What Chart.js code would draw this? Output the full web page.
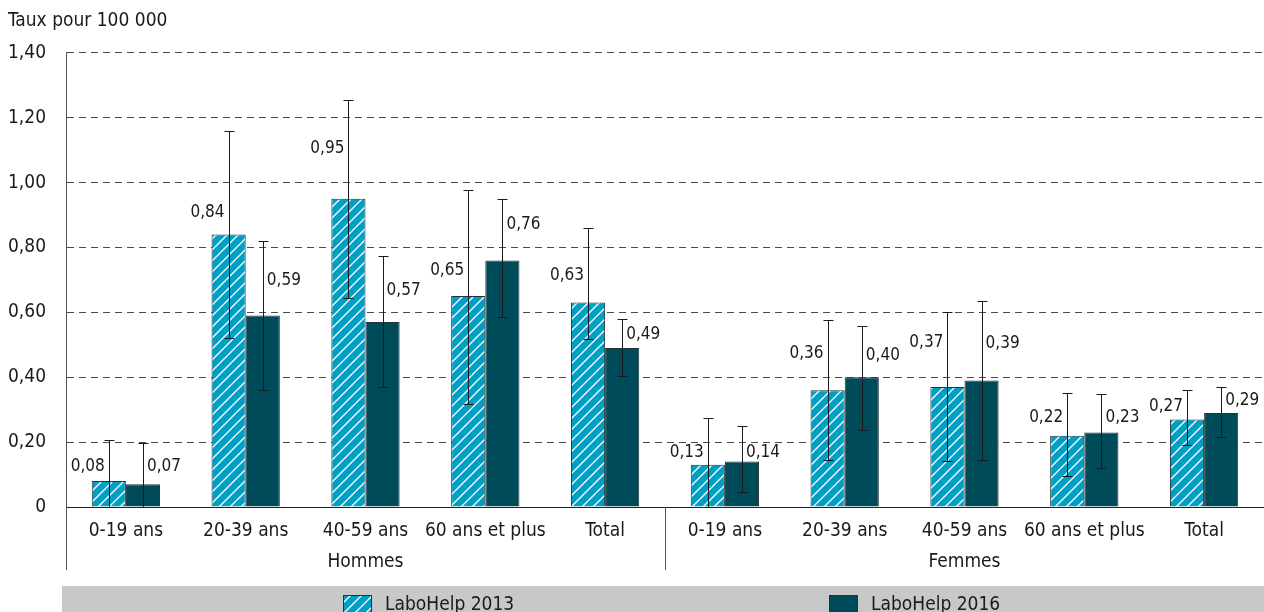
<!DOCTYPE html>
<html>
<head>
<meta charset="utf-8">
<title>Taux pour 100 000</title>
<script src="https://cdn.jsdelivr.net/npm/chart.js@4"></script>
<style>
  body { margin: 0; background: #fff; }
</style>
</head>
<body>
<canvas id="js--chart" width="1264" height="612"></canvas>
<script>
// data
const categories = ["0-19 ans", "20-39 ans", "40-59 ans", "60 ans et plus", "Total",
                    "0-19 ans", "20-39 ans", "40-59 ans", "60 ans et plus", "Total"];
const groups = ["Hommes", "Femmes"];
const series = ["LaboHelp 2013", "LaboHelp 2016"];

const rate2013 = [0.08, 0.84, 0.95, 0.65, 0.63, 0.13, 0.36, 0.37, 0.22, 0.27];
const rate2016 = [0.07, 0.59, 0.57, 0.76, 0.49, 0.14, 0.40, 0.39, 0.23, 0.29];

// confidence interval, low / high
const low2013 = [0, 0.52, 0.645, 0.317, 0.517, 0, 0.145, 0.141, 0.095, 0.19];
const high2013 = [0.207, 1.16, 1.253, 0.978, 0.86, 0.275, 0.577, 0.60, 0.352, 0.361];
const low2016 = [0, 0.361, 0.371, 0.587, 0.405, 0.045, 0.238, 0.144, 0.121, 0.216];
const high2016 = [0.196, 0.821, 0.773, 0.949, 0.581, 0.251, 0.557, 0.634, 0.349, 0.37];

const yTicks = [0, 0.2, 0.4, 0.6, 0.8, 1.0, 1.2, 1.4];

const FONT = "'DejaVu Sans Condensed', 'DejaVu Sans', sans-serif";
Chart.defaults.font.family = FONT;
Chart.defaults.color = "#1a1a1a";

// hachures blanches sur bleu
function hatch(bg) {
    var c = document.createElement("canvas");
    c.width = 11; c.height = 11;
    var g = c.getContext("2d");
    g.fillStyle = bg;
    g.fillRect(0, 0, 11, 11);
    g.strokeStyle = "#ffffff";
    g.lineWidth = 1.3;
    g.beginPath();
    g.moveTo(-2, 13); g.lineTo(13, -2);
    g.moveTo(-2, 2); g.lineTo(2, -2);
    g.moveTo(9, 13); g.lineTo(13, 9);
    g.stroke();
    return g.createPattern(c, "repeat");
}

function fmt(v) {
    return v === 0 ? "0" : v.toFixed(2).replace(".", ",");
}

const errorBars = {
    id: "errorBars",
    afterDatasetsDraw(chart) {
        const ctx = chart.ctx;
        const y = chart.scales.y;
        const lows = [low2013, low2016];
        const highs = [high2013, high2016];
        ctx.save();
        ctx.strokeStyle = "#1a1a1a";
        ctx.lineWidth = 1;
        chart.data.datasets.forEach(function (ds, i) {
            chart.getDatasetMeta(i).data.forEach(function (bar, j) {
                const x = Math.round(bar.x) + 0.5;
                const yl = Math.round(y.getPixelForValue(lows[i][j])) + 0.5;
                const yh = Math.round(y.getPixelForValue(highs[i][j])) + 0.5;
                ctx.beginPath();
                ctx.moveTo(x, yl); ctx.lineTo(x, yh);
                ctx.moveTo(x - 5, yl); ctx.lineTo(x + 5, yl);
                ctx.moveTo(x - 5, yh); ctx.lineTo(x + 5, yh);
                ctx.stroke();
            });
        });
        ctx.restore();
    }
};

const valueLabels = {
    id: "valueLabels",
    afterDatasetsDraw(chart, args, opts) {
        const ctx = chart.ctx;
        ctx.save();
        ctx.font = "17px " + FONT;
        ctx.fillStyle = "#1a1a1a";
        ctx.textAlign = "center";
        ctx.textBaseline = "middle";
        chart.data.datasets.forEach(function (ds, i) {
            chart.getDatasetMeta(i).data.forEach(function (bar, j) {
                const x = i === 0 ? bar.x - bar.width / 2 - 4 : bar.x + bar.width / 2 + 4;
                ctx.fillText(fmt(ds.data[j]), x, bar.y - opts.lift[i][j]);
            });
        });
        ctx.restore();
    }
};

const frame = {
    id: "frame",
    afterDraw(chart, args, opts) {
        const ctx = chart.ctx;
        const area = chart.chartArea;
        const x = chart.scales.x;
        const x2 = chart.scales.x2;
        ctx.save();

        // traits verticaux sous l'axe
        const mid = Math.round((x.getPixelForValue(4) + x.getPixelForValue(5)) / 2) + 0.5;
        ctx.strokeStyle = "#555";
        ctx.lineWidth = 1;
        ctx.beginPath();
        ctx.moveTo(area.left + 0.5, area.bottom); ctx.lineTo(area.left + 0.5, x2.bottom - 5);
        ctx.moveTo(mid, area.bottom); ctx.lineTo(mid, x2.bottom - 5);
        ctx.stroke();

        // bande de la légende
        const top = x2.bottom + 11;
        ctx.fillStyle = "#c8c8c8";
        ctx.fillRect(area.left - 4, top, chart.width - area.left + 4, chart.height - top);
        ctx.font = "19px " + FONT;
        ctx.textBaseline = "alphabetic";
        chart.data.datasets.forEach(function (ds, i) {
            const bx = Math.round(area.left + opts.spots[i] * area.width);
            ctx.fillStyle = ds.backgroundColor;
            ctx.fillRect(bx, top + 9, 29, 20);
            ctx.strokeStyle = "#263238";
            ctx.strokeRect(bx + 0.5, top + 9.5, 28, 20);
            ctx.fillStyle = "#1a1a1a";
            ctx.fillText(ds.label, bx + 42, top + 24);
        });
        ctx.restore();
    }
};

const data = {
    labels: categories,
    datasets: [
        {
            label: series[0],
            data: rate2013,
            backgroundColor: hatch("#00a0c4"),
            borderColor: "#263238",
            borderWidth: 1
        },
        {
            label: series[1],
            data: rate2016,
            backgroundColor: "#004b5a",
            borderColor: "#263238",
            borderWidth: 1
        }
    ]
};

const config = {
    type: "bar",
    data: data,
    plugins: [errorBars, valueLabels, frame],
    options: {
        responsive: false,
        animation: false,
        categoryPercentage: 0.57,
        barPercentage: 1,
        layout: { padding: { left: 8, right: 0, top: 0, bottom: 37 } },
        plugins: {
            legend: { display: false },
            tooltip: { enabled: false },
            title: {
                display: true,
                text: "Taux pour 100 000",
                align: "start",
                color: "#1a1a1a",
                font: { size: 19, weight: "normal" },
                padding: { top: 10, bottom: 20 }
            },
            valueLabels: {
                lift: [
                    [14, 22, 50, 26, 27, 12, 37, 44, 18, 13],
                    [18, 35, 31, 36, 13, 9, 22, 37, 15, 12]
                ]
            },
            frame: { spots: [0.231, 0.637] }
        },
        scales: {
            y: {
                min: 0,
                max: 1.4,
                afterFit: function (s) { s.width = 58; },
                afterBuildTicks: function (s) { s.ticks = yTicks.map(function (v) { return { value: v }; }); },
                ticks: {
                    padding: 20,
                    font: { size: 19 },
                    callback: function (v) { return fmt(v); }
                },
                grid: {
                    color: "#4a4a4a",
                    lineWidth: 1,
                    drawTicks: false
                },
                border: { display: true, color: "#555", dash: [7, 5] }
            },
            x: {
                afterFit: function (s) { s.height = 38; },
                grid: { display: false, drawTicks: false },
                border: { display: true, color: "#222", width: 1 },
                ticks: { padding: 13, font: { size: 19 }, maxRotation: 0, autoSkip: false }
            },
            x2: {
                type: "category",
                position: "bottom",
                labels: groups,
                offset: true,
                afterFit: function (s) { s.height = 30; },
                grid: { display: false, drawTicks: false },
                border: { display: false },
                ticks: { padding: 6, font: { size: 19 }, maxRotation: 0 }
            }
        }
    }
};

new Chart(document.getElementById("js--chart"), config);
</script>
</body>
</html>
